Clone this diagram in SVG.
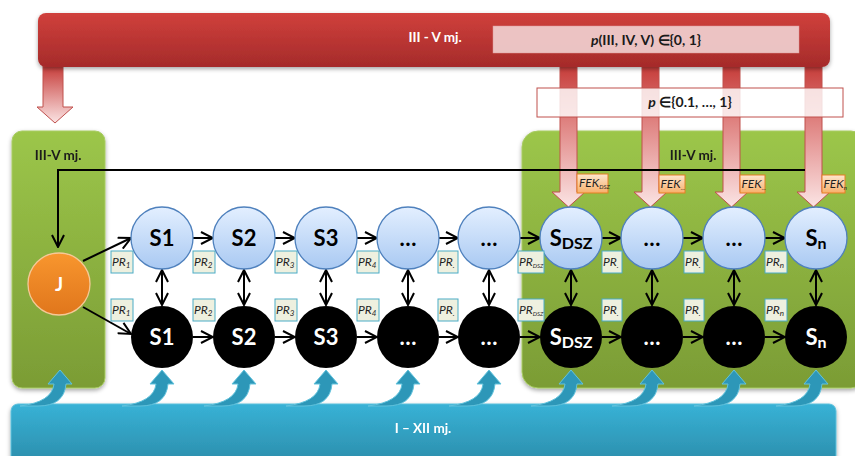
<svg xmlns="http://www.w3.org/2000/svg" width="855" height="456" viewBox="0 0 855 456">
<defs>
<linearGradient id="gRed" x1="0" y1="0" x2="0" y2="1"><stop offset="0" stop-color="#d0403c"/><stop offset="1" stop-color="#a52b2a"/></linearGradient>
<linearGradient id="gArrow" gradientUnits="userSpaceOnUse" x1="0" y1="66" x2="0" y2="207"><stop offset="0" stop-color="#c63c39"/><stop offset="0.35" stop-color="#dd7b79"/><stop offset="1" stop-color="#fbe4e4"/></linearGradient>
<linearGradient id="gArrowL" gradientUnits="userSpaceOnUse" x1="0" y1="66" x2="0" y2="123"><stop offset="0" stop-color="#c63c39"/><stop offset="1" stop-color="#fbe4e4"/></linearGradient>
<linearGradient id="gGreen" x1="0" y1="0" x2="0" y2="1"><stop offset="0" stop-color="#9cc64a"/><stop offset="1" stop-color="#7b9c35"/></linearGradient>
<linearGradient id="gBlue" x1="0" y1="0" x2="0" y2="1"><stop offset="0" stop-color="#38b2d6"/><stop offset="1" stop-color="#2b8dab"/></linearGradient>
<linearGradient id="gNode" x1="0" y1="0" x2="0" y2="1"><stop offset="0" stop-color="#e3efff"/><stop offset="1" stop-color="#a9c9f2"/></linearGradient>
<linearGradient id="gJ" x1="0" y1="0" x2="0" y2="1"><stop offset="0" stop-color="#f8962e"/><stop offset="1" stop-color="#e0761c"/></linearGradient>
<linearGradient id="gFek" x1="0" y1="0" x2="0" y2="1"><stop offset="0" stop-color="#fde6cf"/><stop offset="1" stop-color="#f8b06b"/></linearGradient>
<filter id="sh" x="-10%" y="-10%" width="120%" height="130%"><feDropShadow dx="0" dy="2" stdDeviation="2" flood-color="#000" flood-opacity="0.35"/></filter>
<marker id="ah" viewBox="0 0 14 14" refX="13" refY="7" markerWidth="14" markerHeight="14" markerUnits="userSpaceOnUse" orient="auto-start-reverse"><path d="M1,1 L13,7 L1,13" fill="none" stroke="#000" stroke-width="2"/></marker>
<path id="blueArrow" d="M-40,406 Q-8,402 -6,384 L-12,384 L0,370 L12,384 L6,384 Q4,406 -22,406 Z"/>
</defs>
<style>
.t{font-family:Lato,"Open Sans","Liberation Sans",sans-serif;font-weight:bold}
.w{fill:#fff}
.lbl{font-family:Lato,"Open Sans","Liberation Sans",sans-serif;font-style:italic;font-size:12px;fill:#1f1f1f}
.pr{fill:#eef0df;stroke:#4bacc6;stroke-width:1}
.fek{fill:url(#gFek);stroke:#e67e22;stroke-width:1}
.blue{fill:url(#gNode);stroke:#4f81bd;stroke-width:1.3}
.blk{fill:#000}
.con{stroke:#000;stroke-width:2;fill:none}
.ra{fill:url(#gArrow);stroke:#c0504d;stroke-width:1}
.ba{fill:#2d97b8;stroke:#62c3dd;stroke-width:1}
</style>

<!-- green panels -->
<g id="panel-left" filter="url(#sh)"><rect x="12" y="131" width="93" height="257" rx="10" fill="url(#gGreen)" stroke="#a8cc63" stroke-width="1"/><text class="t" x="58" y="160" font-size="13.5" text-anchor="middle" fill="#1a1a1a">III-V mj.</text></g>
<g id="panel-right" filter="url(#sh)"><rect x="522" y="131" width="345" height="257" rx="16" fill="url(#gGreen)" stroke="#a8cc63" stroke-width="1"/><text class="t" x="693" y="160" font-size="13.5" text-anchor="middle" fill="#1a1a1a">III-V mj.</text></g>

<!-- bottom bar -->
<g id="bar-bottom" filter="url(#sh)"><rect x="11" y="404" width="825" height="60" rx="7" fill="url(#gBlue)" stroke="#5cc0dc" stroke-width="1"/><text class="t w" x="423" y="433" font-size="13.5" text-anchor="middle">I – XII mj.</text></g>

<!-- red bar -->
<g id="bar-top">
<g id="arrow-left"><path d="M43,66 H63 V107 H73 L55,123 L37,107 H43 Z" fill="url(#gArrowL)" stroke="#c0504d" stroke-width="1"/></g>
<g id="red-arrows">
<path class="ra" d="M560,66 H577 V192 H585 L568.5,207 L552,192 H560 Z"/>
<path class="ra" d="M642,66 H659 V192 H667 L650.5,207 L634,192 H642 Z"/>
<path class="ra" d="M723,66 H740 V192 H748 L731.5,207 L715,192 H723 Z"/>
<path class="ra" d="M805,66 H822 V192 H830 L813.5,207 L797,192 H805 Z"/>
</g>
<rect x="38" y="13" width="792" height="54" rx="8" fill="url(#gRed)" filter="url(#sh)"/>
<text class="t w" x="435" y="42" font-size="13.5" text-anchor="middle">III - V mj.</text>
<g id="p-box-1"><rect x="493" y="26" width="306" height="27" fill="#f0cfcf" fill-opacity="0.92" stroke="#d99" stroke-width="0.5"/><text class="t" x="646" y="45" font-size="14" text-anchor="middle" fill="#1a1a1a"><tspan font-style="italic">p</tspan>(III, IV, V) ∈{0, 1}</text></g>
</g>
<g id="p-box-2"><rect x="537" y="88" width="306" height="29" fill="#fff" fill-opacity="0.82" stroke="#c0504d" stroke-width="1"/><text class="t" x="690" y="107" font-size="14" text-anchor="middle" fill="#1a1a1a"><tspan font-style="italic">p</tspan> ∈{0.1, …, 1}</text></g>

<!-- blue curved arrows -->
<g id="blue-arrows" class="ba">
<use href="#blueArrow" x="60" y="0"/>
<use href="#blueArrow" x="162" y="0"/>
<use href="#blueArrow" x="244" y="0"/>
<use href="#blueArrow" x="326" y="0"/>
<use href="#blueArrow" x="408" y="0"/>
<use href="#blueArrow" x="489" y="0"/>
<use href="#blueArrow" x="571" y="0"/>
<use href="#blueArrow" x="652" y="0"/>
<use href="#blueArrow" x="734" y="0"/>
<use href="#blueArrow" x="816" y="0"/>
</g>

<!-- connectors -->
<g id="connectors" class="con">
<path d="M805,170 H58 V247" marker-end="url(#ah)"/>
<line x1="83" y1="261" x2="131" y2="238" marker-end="url(#ah)"/>
<line x1="83" y1="307" x2="131" y2="334" marker-end="url(#ah)"/>
<line x1="193" y1="238" x2="213" y2="238" marker-end="url(#ah)"/>
<line x1="275" y1="238" x2="295" y2="238" marker-end="url(#ah)"/>
<line x1="357" y1="238" x2="377" y2="238" marker-end="url(#ah)"/>
<line x1="439" y1="238" x2="458" y2="238" marker-end="url(#ah)"/>
<line x1="520" y1="238" x2="540" y2="238" marker-end="url(#ah)"/>
<line x1="602" y1="238" x2="621" y2="238" marker-end="url(#ah)"/>
<line x1="683" y1="238" x2="703" y2="238" marker-end="url(#ah)"/>
<line x1="765" y1="238" x2="785" y2="238" marker-end="url(#ah)"/>
<line x1="193" y1="337" x2="213" y2="337" marker-end="url(#ah)"/>
<line x1="275" y1="337" x2="295" y2="337" marker-end="url(#ah)"/>
<line x1="357" y1="337" x2="377" y2="337" marker-end="url(#ah)"/>
<line x1="439" y1="337" x2="458" y2="337" marker-end="url(#ah)"/>
<line x1="520" y1="337" x2="540" y2="337" marker-end="url(#ah)"/>
<line x1="602" y1="337" x2="621" y2="337" marker-end="url(#ah)"/>
<line x1="683" y1="337" x2="703" y2="337" marker-end="url(#ah)"/>
<line x1="765" y1="337" x2="785" y2="337" marker-end="url(#ah)"/>
<line x1="162" y1="270" x2="162" y2="305" marker-start="url(#ah)" marker-end="url(#ah)"/>
<line x1="244" y1="270" x2="244" y2="305" marker-start="url(#ah)" marker-end="url(#ah)"/>
<line x1="326" y1="270" x2="326" y2="305" marker-start="url(#ah)" marker-end="url(#ah)"/>
<line x1="408" y1="270" x2="408" y2="305" marker-start="url(#ah)" marker-end="url(#ah)"/>
<line x1="489" y1="270" x2="489" y2="305" marker-start="url(#ah)" marker-end="url(#ah)"/>
<line x1="571" y1="270" x2="571" y2="305" marker-start="url(#ah)" marker-end="url(#ah)"/>
<line x1="652" y1="270" x2="652" y2="305" marker-start="url(#ah)" marker-end="url(#ah)"/>
<line x1="734" y1="270" x2="734" y2="305" marker-start="url(#ah)" marker-end="url(#ah)"/>
<line x1="816" y1="270" x2="816" y2="305" marker-start="url(#ah)" marker-end="url(#ah)"/>
</g>

<!-- FEK labels -->
<g id="fek-dsz"><rect class="fek" x="577" y="174" width="31" height="19"/><text class="lbl" x="579" y="187" font-size="9.5">FEK<tspan font-size="6" dy="2">DSZ</tspan></text></g>
<g id="fek-2"><rect class="fek" x="659" y="175" width="26" height="18"/><text class="lbl" x="660.5" y="188" font-size="9.5">FEK<tspan font-size="6" dy="2">...</tspan></text></g>
<g id="fek-3"><rect class="fek" x="740" y="175" width="25" height="18"/><text class="lbl" x="741.5" y="188" font-size="9.5">FEK<tspan font-size="6" dy="2">...</tspan></text></g>
<g id="fek-n"><rect class="fek" x="822" y="175" width="23" height="18"/><text class="lbl" x="823.5" y="188" font-size="9.5">FEK<tspan font-size="6" dy="2">n</tspan></text></g>

<!-- J -->
<g id="node-J"><circle cx="59" cy="284" r="31" fill="url(#gJ)" stroke="#f6c896" stroke-width="1.3"/><text class="t w" x="59" y="291" font-size="19" text-anchor="middle">J</text></g>

<!-- top row -->
<g id="top-S1"><circle class="blue" cx="162" cy="238" r="31"/><text class="t" x="162" y="246" font-size="22" text-anchor="middle">S1</text></g>
<g id="top-S2"><circle class="blue" cx="244" cy="238" r="31"/><text class="t" x="244" y="246" font-size="22" text-anchor="middle">S2</text></g>
<g id="top-S3"><circle class="blue" cx="326" cy="238" r="31"/><text class="t" x="326" y="246" font-size="22" text-anchor="middle">S3</text></g>
<g id="top-4"><circle class="blue" cx="408" cy="238" r="31"/><text class="t" x="408" y="246" font-size="22" text-anchor="middle">…</text></g>
<g id="top-5"><circle class="blue" cx="489" cy="238" r="31"/><text class="t" x="489" y="246" font-size="22" text-anchor="middle">…</text></g>
<g id="top-SDSZ"><circle class="blue" cx="571" cy="238" r="31"/><text class="t" x="571" y="246" font-size="22" text-anchor="middle">S<tspan font-size="16" dy="3">DSZ</tspan></text></g>
<g id="top-7"><circle class="blue" cx="652" cy="238" r="31"/><text class="t" x="652" y="246" font-size="22" text-anchor="middle">…</text></g>
<g id="top-8"><circle class="blue" cx="734" cy="238" r="31"/><text class="t" x="734" y="246" font-size="22" text-anchor="middle">…</text></g>
<g id="top-Sn"><circle class="blue" cx="816" cy="238" r="31"/><text class="t" x="816" y="246" font-size="22" text-anchor="middle">S<tspan font-size="16" dy="3">n</tspan></text></g>

<!-- bottom row -->
<g id="bot-S1"><circle class="blk" cx="162" cy="337" r="31"/><text class="t w" x="162" y="345" font-size="22" text-anchor="middle">S1</text></g>
<g id="bot-S2"><circle class="blk" cx="244" cy="337" r="31"/><text class="t w" x="244" y="345" font-size="22" text-anchor="middle">S2</text></g>
<g id="bot-S3"><circle class="blk" cx="326" cy="337" r="31"/><text class="t w" x="326" y="345" font-size="22" text-anchor="middle">S3</text></g>
<g id="bot-4"><circle class="blk" cx="408" cy="337" r="31"/><text class="t w" x="408" y="345" font-size="22" text-anchor="middle">…</text></g>
<g id="bot-5"><circle class="blk" cx="489" cy="337" r="31"/><text class="t w" x="489" y="345" font-size="22" text-anchor="middle">…</text></g>
<g id="bot-SDSZ"><circle class="blk" cx="571" cy="337" r="31"/><text class="t w" x="571" y="345" font-size="22" text-anchor="middle">S<tspan font-size="16" dy="3">DSZ</tspan></text></g>
<g id="bot-7"><circle class="blk" cx="652" cy="337" r="31"/><text class="t w" x="652" y="345" font-size="22" text-anchor="middle">…</text></g>
<g id="bot-8"><circle class="blk" cx="734" cy="337" r="31"/><text class="t w" x="734" y="345" font-size="22" text-anchor="middle">…</text></g>
<g id="bot-Sn"><circle class="blk" cx="816" cy="337" r="31"/><text class="t w" x="816" y="345" font-size="22" text-anchor="middle">S<tspan font-size="16" dy="3">n</tspan></text></g>

<!-- PR labels -->
<g id="pr-top">
<rect class="pr" x="111" y="251" width="22" height="22"/><text class="lbl" x="112" y="266">PR<tspan font-size="8" dy="2">1</tspan></text>
<rect class="pr" x="193" y="251" width="22" height="22"/><text class="lbl" x="194" y="266">PR<tspan font-size="8" dy="2">2</tspan></text>
<rect class="pr" x="275" y="251" width="22" height="22"/><text class="lbl" x="276" y="266">PR<tspan font-size="8" dy="2">3</tspan></text>
<rect class="pr" x="357" y="251" width="22" height="22"/><text class="lbl" x="358" y="266">PR<tspan font-size="8" dy="2">4</tspan></text>
<rect class="pr" x="438" y="251" width="20" height="22"/><text class="lbl" x="439" y="266">PR<tspan font-size="8" dy="2">.</tspan></text>
<rect class="pr" x="518" y="251" width="26" height="22"/><text class="lbl" x="519" y="266" font-size="10.5">PR<tspan font-size="6" dy="2">DSZ</tspan></text>
<rect class="pr" x="602" y="251" width="20" height="22"/><text class="lbl" x="603" y="266">PR<tspan font-size="8" dy="2">.</tspan></text>
<rect class="pr" x="684" y="251" width="20" height="22"/><text class="lbl" x="685" y="266">PR<tspan font-size="8" dy="2">.</tspan></text>
<rect class="pr" x="765" y="251" width="22" height="22"/><text class="lbl" x="766" y="266">PR<tspan font-size="8" dy="2">n</tspan></text>
</g>
<g id="pr-bottom">
<rect class="pr" x="111" y="299" width="22" height="22"/><text class="lbl" x="112" y="314">PR<tspan font-size="8" dy="2">1</tspan></text>
<rect class="pr" x="193" y="299" width="22" height="22"/><text class="lbl" x="194" y="314">PR<tspan font-size="8" dy="2">2</tspan></text>
<rect class="pr" x="275" y="299" width="22" height="22"/><text class="lbl" x="276" y="314">PR<tspan font-size="8" dy="2">3</tspan></text>
<rect class="pr" x="357" y="299" width="22" height="22"/><text class="lbl" x="358" y="314">PR<tspan font-size="8" dy="2">4</tspan></text>
<rect class="pr" x="438" y="299" width="20" height="22"/><text class="lbl" x="439" y="314">PR<tspan font-size="8" dy="2">.</tspan></text>
<rect class="pr" x="518" y="299" width="26" height="22"/><text class="lbl" x="519" y="314" font-size="10.5">PR<tspan font-size="6" dy="2">DSZ</tspan></text>
<rect class="pr" x="602" y="299" width="20" height="22"/><text class="lbl" x="603" y="314">PR<tspan font-size="8" dy="2">.</tspan></text>
<rect class="pr" x="684" y="299" width="20" height="22"/><text class="lbl" x="685" y="314">PR<tspan font-size="8" dy="2">.</tspan></text>
<rect class="pr" x="765" y="299" width="22" height="22"/><text class="lbl" x="766" y="314">PR<tspan font-size="8" dy="2">n</tspan></text>
</g>
</svg>
